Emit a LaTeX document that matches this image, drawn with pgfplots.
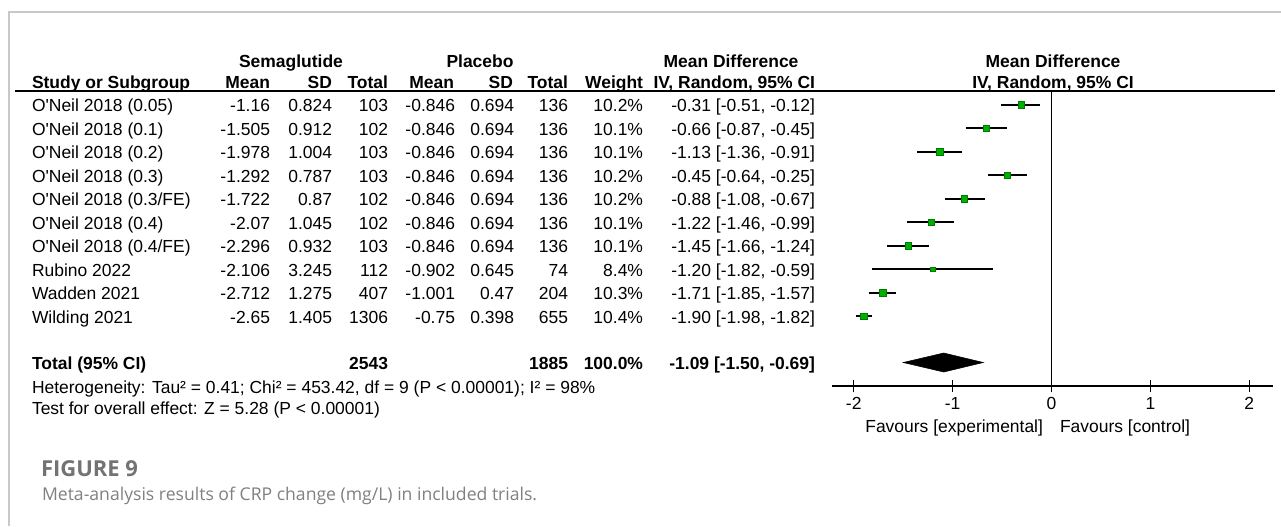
\documentclass[border=0pt]{standalone}
\usepackage{pgfplots}
\pgfplotsset{compat=1.18}
\usepackage{fontspec}
\setmainfont{Liberation Sans}[Ligatures=TeXOff]
\newfontfamily\capfont{Open Sans}
\definecolor{mkgreen}{HTML}{00B000}
\definecolor{mkedge}{HTML}{007A00}
\definecolor{framegray}{HTML}{C8C8C8}
\newcommand\tf{\fontsize{13.1}{15}\selectfont}
\begin{document}
\begin{tikzpicture}[x=0.75pt,y=-0.75pt,
  T/.style={inner sep=0pt, outer sep=0pt, font=\tf}]
\path[use as bounding box] (0,0) rectangle (1281,526);
\draw[framegray, line width=1.1pt] (9,526) -- (9,12) -- (1281,12);

\begin{axis}[
  at={(624pt,-289.5pt)}, anchor=south west,
  scale only axis, width=330.75pt, height=221.25pt,
  xmin=-2.22, xmax=2.24, ymin=-386, ymax=-91,
  axis x line*=bottom, hide y axis,
  x axis line style={line width=1.1pt, -},
  xtick={-2,-1,0,1,2}, xticklabels={-2,-1,0,1,2},
  tick align=center, major tick length=9pt,
  every tick/.style={black, line width=1.1pt},
  xticklabel style={font=\tf, inner sep=0pt, yshift=-4pt},
  clip=false,
]
% zero line
\addplot[black, line width=1.1pt] coordinates {(0,-91) (0,-386)};
% confidence intervals
\addplot[black, line width=1.6pt] coordinates {(-0.51,-104.7) (-0.12,-104.7)};
\addplot[black, line width=1.6pt] coordinates {(-0.87,-128.2) (-0.45,-128.2)};
\addplot[black, line width=1.6pt] coordinates {(-1.36,-151.7) (-0.91,-151.7)};
\addplot[black, line width=1.6pt] coordinates {(-0.64,-175.2) (-0.25,-175.2)};
\addplot[black, line width=1.6pt] coordinates {(-1.08,-198.7) (-0.67,-198.7)};
\addplot[black, line width=1.6pt] coordinates {(-1.46,-222.2) (-0.99,-222.2)};
\addplot[black, line width=1.6pt] coordinates {(-1.66,-245.7) (-1.24,-245.7)};
\addplot[black, line width=1.6pt] coordinates {(-1.82,-269.2) (-0.59,-269.2)};
\addplot[black, line width=1.6pt] coordinates {(-1.85,-292.7) (-1.57,-292.7)};
\addplot[black, line width=1.6pt] coordinates {(-1.98,-316.2) (-1.82,-316.2)};
% point estimates
\addplot[only marks, mark=square*, mark size=2.3pt,
  mark options={fill=mkgreen, draw=mkedge, line width=0.4pt}] coordinates {
  (-0.31,-104.7) (-0.66,-128.2) (-1.13,-151.7) (-0.45,-175.2)
  (-0.88,-198.7) (-1.22,-222.2) (-1.45,-245.7)};
\addplot[only marks, mark=square*, mark size=1.6pt,
  mark options={fill=mkgreen, draw=mkedge, line width=0.4pt}] coordinates {
  (-1.20,-269.2)};
\addplot[only marks, mark=square*, mark size=2.5pt,
  mark options={fill=mkgreen, draw=mkedge, line width=0.4pt}] coordinates {
  (-1.71,-292.7) (-1.90,-316.2)};
% pooled diamond
\addplot[fill=black, draw=black] coordinates {
  (-1.50,-362.5) (-1.09,-353) (-0.69,-362.5) (-1.09,-372)} --cycle;
\end{axis}

% header
\draw[black, line width=1.4pt] (15,91) -- (1275,91);
\node[T, anchor=base, font=\tf\bfseries] at (291,67) {Semaglutide};
\node[T, anchor=base, font=\tf\bfseries] at (480,67) {Placebo};
\node[T, anchor=base, font=\tf\bfseries] at (731,67) {Mean Difference};
\node[T, anchor=base, font=\tf\bfseries] at (1053,67) {Mean Difference};
\node[T, anchor=base west, font=\tf\bfseries] at (32,88) {Study or Subgroup};
\node[T, anchor=base east, font=\tf\bfseries] at (270,88) {Mean};
\node[T, anchor=base east, font=\tf\bfseries] at (332,88) {SD};
\node[T, anchor=base east, font=\tf\bfseries] at (388,88) {Total};
\node[T, anchor=base east, font=\tf\bfseries] at (454,88) {Mean};
\node[T, anchor=base east, font=\tf\bfseries] at (513,88) {SD};
\node[T, anchor=base east, font=\tf\bfseries] at (568,88) {Total};
\node[T, anchor=base east, font=\tf\bfseries] at (643,88) {Weight};
\node[T, anchor=base east, font=\tf\bfseries] at (815,88) {IV, Random, 95\% CI};
\node[T, anchor=base, font=\tf\bfseries] at (1053,88) {IV, Random, 95\% CI};

% rows
\foreach \y/\name/\ma/\sa/\na/\mb/\sb/\nb/\w/\ci in {
 104.7/{O'Neil 2018 (0.05)}/-1.16/0.824/103/-0.846/0.694/136/10.2\%/{-0.31 [-0.51, -0.12]},
 128.2/{O'Neil 2018 (0.1)}/-1.505/0.912/102/-0.846/0.694/136/10.1\%/{-0.66 [-0.87, -0.45]},
 151.7/{O'Neil 2018 (0.2)}/-1.978/1.004/103/-0.846/0.694/136/10.1\%/{-1.13 [-1.36, -0.91]},
 175.2/{O'Neil 2018 (0.3)}/-1.292/0.787/103/-0.846/0.694/136/10.2\%/{-0.45 [-0.64, -0.25]},
 198.7/{O'Neil 2018 (0.3/FE)}/-1.722/0.87/102/-0.846/0.694/136/10.2\%/{-0.88 [-1.08, -0.67]},
 222.2/{O'Neil 2018 (0.4)}/-2.07/1.045/102/-0.846/0.694/136/10.1\%/{-1.22 [-1.46, -0.99]},
 245.7/{O'Neil 2018 (0.4/FE)}/-2.296/0.932/103/-0.846/0.694/136/10.1\%/{-1.45 [-1.66, -1.24]},
 269.2/{Rubino 2022}/-2.106/3.245/112/-0.902/0.645/74/8.4\%/{-1.20 [-1.82, -0.59]},
 292.7/{Wadden 2021}/-2.712/1.275/407/-1.001/0.47/204/10.3\%/{-1.71 [-1.85, -1.57]},
 316.2/{Wilding 2021}/-2.65/1.405/1306/-0.75/0.398/655/10.4\%/{-1.90 [-1.98, -1.82]}}
{
 \node[T, anchor=base west] at (32,\y+7) {\name};
 \node[T, anchor=base east] at (270,\y+7) {\ma};
 \node[T, anchor=base east] at (332,\y+7) {\sa};
 \node[T, anchor=base east] at (388,\y+7) {\na};
 \node[T, anchor=base east] at (455,\y+7) {\mb};
 \node[T, anchor=base east] at (514,\y+7) {\sb};
 \node[T, anchor=base east] at (568,\y+7) {\nb};
 \node[T, anchor=base east] at (643,\y+7) {\w};
 \node[T, anchor=base east] at (815,\y+7) {\ci};
}

% total
\node[T, anchor=base west, font=\tf\bfseries] at (32,369.5) {Total (95\% CI)};
\node[T, anchor=base east, font=\tf\bfseries] at (388,369.5) {2543};
\node[T, anchor=base east, font=\tf\bfseries] at (568,369.5) {1885};
\node[T, anchor=base east, font=\tf\bfseries] at (643,369.5) {100.0\%};
\node[T, anchor=base east, font=\tf\bfseries] at (815,369.5) {-1.09 [-1.50, -0.69]};
\node[T, anchor=base west] at (32,393) {Heterogeneity: Tau² = 0.41; Chi² = 453.42, df = 9 (P < 0.00001); I² = 98\%};
\node[T, anchor=base west] at (32,414) {Test for overall effect: Z = 5.28 (P < 0.00001)};

% favours
\node[T, anchor=base east] at (1043,432) {Favours [experimental]};
\node[T, anchor=base west] at (1060,432) {Favours [control]};

% caption
\node[T, anchor=base west, font=\capfont\fontsize{16.5}{18}\selectfont\bfseries, text=black!55] at (41,476) {FIGURE 9};
\node[T, anchor=base west, font=\capfont\fontsize{13.2}{16}\selectfont, text=black!50] at (42,500) {Meta-analysis results of CRP change (mg/L) in included trials.};
\end{tikzpicture}
\end{document}
